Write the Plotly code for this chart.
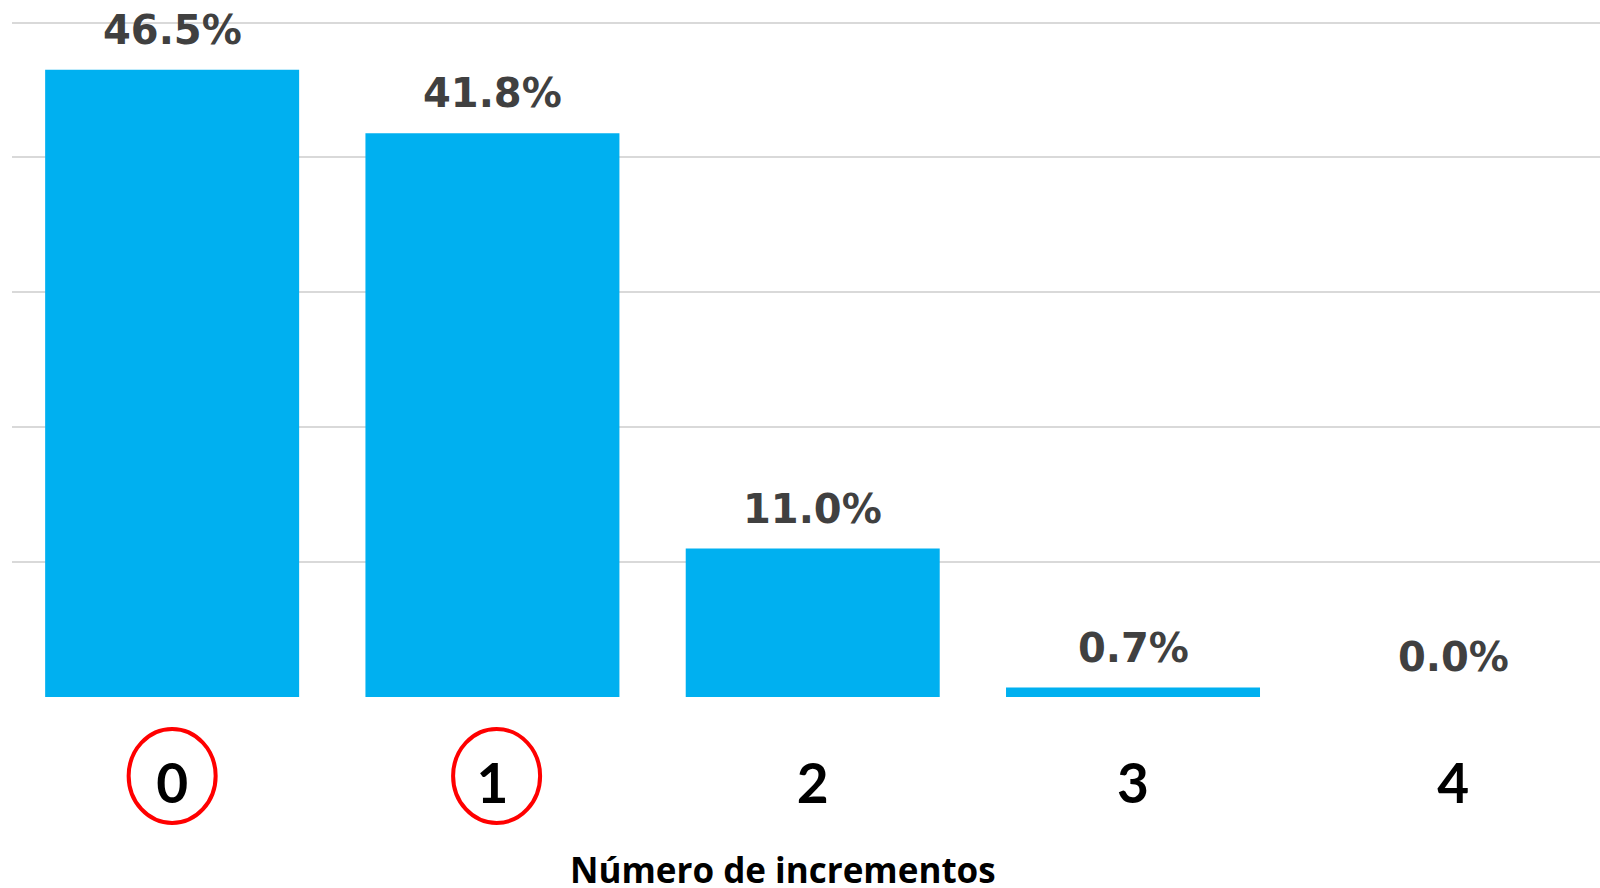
import plotly.graph_objects as go

categories = ["0", "1", "2", "3", "4"]
values = [46.5, 41.8, 11.0, 0.7, 0.0]
labels = ["46.5%", "41.8%", "11.0%", "0.7%", "0.0%"]
circled = [0, 1]
x_title = "Número de incrementos"

xs = list(range(len(categories)))

fig = go.Figure()
fig.add_trace(go.Bar(
    x=xs, y=values, marker=dict(color="#00B0F0", line=dict(width=0)),
    hoverinfo="skip", showlegend=False,
))

for xi, v, lab in zip(xs, values, labels):
    fig.add_annotation(
        x=xi, y=v, xref="x", yref="y", text=f"<b>{lab}</b>", showarrow=False,
        yanchor="bottom", yshift=15,
        font=dict(family="DejaVu Sans", size=40, color="#404040"),
    )

for ci in circled:
    fig.add_shape(
        type="circle", xref="x", yref="paper",
        xsizemode="pixel", ysizemode="pixel",
        xanchor=ci + (0.0 if ci == 0 else 0.013), yanchor=-0.1153,
        x0=-43.5, x1=43.5, y0=-47, y1=47,
        line=dict(color="#FF0000", width=4),
    )

fig.add_annotation(
    x=1.907, y=-0.252, xref="x", yref="paper", text=f"<b>{x_title}</b>",
    showarrow=False, yanchor="middle",
    font=dict(family="Open Sans", size=35, color="#000000"),
)

fig.update_layout(
    width=1600, height=888,
    margin=dict(l=12, r=0, t=12, b=191),
    paper_bgcolor="white", plot_bgcolor="white",
    bargap=0.207,
    xaxis=dict(
        range=[-0.5, 4.458], tickmode="array", tickvals=xs,
        ticktext=[f"<b>{c}</b>" for c in categories],
        tickfont=dict(family="Lato", size=55, color="#000000"),
        showgrid=False, zeroline=False, showline=False, ticks="",
        ticklabelstandoff=50, fixedrange=True,
    ),
    yaxis=dict(
        range=[0, 50.78], dtick=10, showticklabels=False,
        showgrid=True, gridcolor="#d9d9d9", gridwidth=2,
        zeroline=False, showline=False, ticks="", fixedrange=True,
    ),
)

fig.write_html(
    "out.html",
    config={"displayModeBar": False},
    post_script="document.body.style.margin='0';document.body.style.overflow='hidden';",
)
